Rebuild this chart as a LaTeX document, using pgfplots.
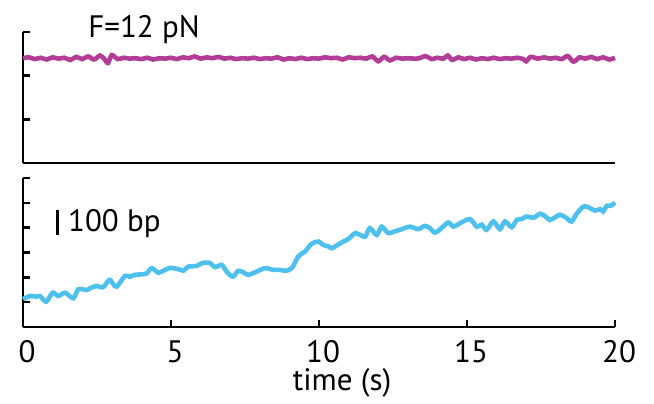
\documentclass[border=0pt]{standalone}
\usepackage{fontspec}
\setmainfont{PT Sans}
\usepackage{pgfplots}
\pgfplotsset{compat=1.18}

\definecolor{trapmag}{RGB}{178,60,152}
\definecolor{dnablue}{RGB}{78,192,238}

\newcommand{\bigtxt}{\fontsize{31bp}{33bp}\selectfont}

\pgfplotsset{
  trace/.style={
    scale only axis, width=592bp, xmin=0, xmax=20,
    axis lines=left, axis line style={-, line width=2.6bp},
    tick align=inside, ytick pos=left, xtick pos=lower,
    major tick length=7bp, every tick/.style={black, line width=2.6bp},
    yticklabels={}, clip=false,
    /pgf/number format/assume math mode=true,
  }
}

\begin{document}
\begin{tikzpicture}
\useasboundingbox (0,0) rectangle (654bp,404bp);

% top panel: force
\begin{axis}[trace, at={(23bp,241bp)}, anchor=south west, height=131bp,
  ymin=0, ymax=3, ytick={0,1,2,3}, xtick=\empty]
\addplot[trapmag, line width=4.6bp, smooth] coordinates {
(0,2.40) (0.2,2.42) (0.4,2.38) (0.6,2.41) (0.8,2.37) (1.0,2.42) (1.2,2.39)
(1.4,2.41) (1.6,2.36) (1.8,2.43) (2.0,2.38) (2.2,2.44) (2.4,2.37) (2.6,2.46)
(2.75,2.38) (2.87,2.29) (3.0,2.47) (3.2,2.38) (3.4,2.41) (3.6,2.39) (3.8,2.40)
(4.0,2.38) (4.2,2.41) (4.4,2.37) (4.6,2.40) (4.8,2.39) (5.0,2.41) (5.2,2.38)
(5.4,2.42) (5.6,2.40) (5.8,2.44) (6.0,2.39) (6.2,2.42) (6.4,2.40) (6.6,2.43)
(6.8,2.39) (7.0,2.41) (7.2,2.38) (7.4,2.40) (7.6,2.39) (7.8,2.41) (8.0,2.38)
(8.2,2.40) (8.4,2.39) (8.6,2.42) (8.8,2.37) (9.0,2.40) (9.2,2.38) (9.4,2.41)
(9.6,2.38) (9.8,2.40) (10.0,2.39) (10.2,2.42) (10.4,2.40) (10.6,2.41) (10.8,2.37)
(11.0,2.42) (11.2,2.40) (11.4,2.41) (11.6,2.39) (11.8,2.44) (12.0,2.33) (12.2,2.43)
(12.4,2.35) (12.6,2.41) (12.8,2.39) (13.0,2.40) (13.2,2.39) (13.4,2.40) (13.6,2.45)
(13.8,2.38) (14.0,2.41) (14.2,2.39) (14.35,2.46) (14.5,2.36) (14.7,2.42) (14.9,2.38)
(15.1,2.41) (15.3,2.37) (15.5,2.40) (15.7,2.38) (15.9,2.41) (16.1,2.38) (16.3,2.40)
(16.5,2.39) (16.7,2.41) (16.9,2.38) (17.0,2.33) (17.15,2.43) (17.4,2.39) (17.6,2.42)
(17.8,2.39) (18.0,2.41) (18.2,2.38) (18.4,2.45) (18.6,2.32) (18.8,2.42) (19.0,2.39)
(19.2,2.43) (19.4,2.38) (19.6,2.42) (19.8,2.37) (20.0,2.41)
};
\node[anchor=base west, inner sep=0pt, font=\bigtxt] at (axis cs:2.2,2.885) {F=12 pN};
\end{axis}

% bottom panel: DNA extension
\begin{axis}[trace, at={(23bp,77bp)}, anchor=south west, height=149bp,
  ymin=0, ymax=6, ytick={0,...,6}, xtick={0,5,10,15,20},
  xticklabel style={font=\bigtxt, anchor=base, yshift=-35bp, xshift=4bp, inner sep=0pt}]
\addplot[dnablue, line width=4.6bp, smooth] coordinates {
(0,1.12) (0.24,1.25) (0.45,1.22) (0.57,1.25) (0.78,1.02) (1.0,1.38) (1.19,1.25)
(1.42,1.38) (1.70,1.16) (1.87,1.52) (2.15,1.49) (2.30,1.58) (2.49,1.65) (2.70,1.60)
(2.92,1.90) (3.05,1.72) (3.17,1.63) (3.45,2.06) (3.60,2.02) (3.78,2.10) (4.0,2.12)
(4.18,2.16) (4.35,2.37) (4.57,2.19) (4.80,2.30) (4.97,2.38) (5.25,2.33) (5.42,2.27)
(5.58,2.43) (5.87,2.46) (6.04,2.57) (6.29,2.59) (6.49,2.41) (6.71,2.50) (6.88,2.23)
(7.09,2.03) (7.27,2.26) (7.45,2.20) (7.61,2.10) (7.89,2.23) (8.18,2.37) (8.46,2.30)
(8.70,2.30) (8.85,2.26) (9.08,2.37) (9.30,2.84) (9.53,3.04) (9.75,3.35) (9.98,3.44)
(10.13,3.31) (10.31,3.25) (10.43,3.17) (10.62,3.30) (10.82,3.44) (11.0,3.55) (11.22,3.78)
(11.40,3.70) (11.56,3.64) (11.72,3.98) (11.95,3.71) (12.12,4.04) (12.34,3.78) (12.55,3.85)
(12.73,3.91) (13.07,4.04) (13.35,3.94) (13.57,4.07) (13.75,3.98) (13.92,3.80) (14.15,4.00)
(14.37,4.21) (14.54,4.04) (14.76,4.18) (15.10,4.34) (15.33,4.04) (15.50,4.12) (15.66,3.91)
(15.89,4.25) (16.11,3.94) (16.28,4.25) (16.51,4.02) (16.68,4.31) (16.85,4.35) (17.01,4.45)
(17.25,4.40) (17.47,4.56) (17.65,4.45) (17.80,4.31) (17.98,4.42) (18.14,4.52) (18.35,4.40)
(18.53,4.25) (18.70,4.55) (18.93,4.85) (19.10,4.82) (19.32,4.69) (19.50,4.75) (19.60,4.65)
(19.72,4.88) (19.85,4.88) (20.0,5.01)
};
% scale bar: one tick = 100 bp
\addplot[black, line width=3bp] coordinates {(1.18,3.71) (1.18,4.72)};
\node[anchor=base west, inner sep=0pt, font=\bigtxt] at (axis cs:1.52,3.83) {100 bp};
\node[anchor=base, inner sep=0pt, font=\bigtxt] at (axis cs:10.78,-2.56) {time (s)};
\end{axis}
\end{tikzpicture}
\end{document}
